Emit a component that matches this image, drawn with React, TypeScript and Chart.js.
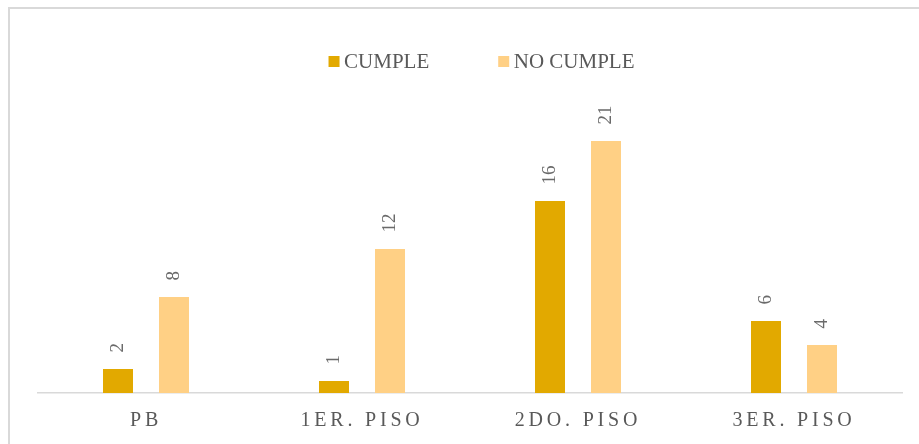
import { useEffect, useRef } from "react";
import { Chart, registerables } from "chart.js";

Chart.register(...registerables);

// Floors surveyed and how many items comply / do not comply on each
const categories = ["PB", "1ER. PISO", "2DO. PISO", "3ER. PISO"];
const seriesNames = ["CUMPLE", "NO CUMPLE"];
const cumple = [2, 1, 16, 6];
const noCumple = [8, 12, 21, 4];
const axisMax = 25;

const seriesColors = ["#E2A900", "#FFD085"];
const textGray = "#595959";
const valueGray = "#6A6A6A";
const lineGray = "#D9D9D9";
const SERIF = '"Liberation Serif", "Times New Roman", serif';

// Bar group geometry: two 30px bars, 26px apart, in a 216px category
const groupShare = 112 / 216;
const barShare = 30 / 56;

// Draws the rotated value labels, the spaced category labels and the legend
const decorations = {
  id: "decorations",
  afterDatasetsDraw(chart: any) {
    const ctx = chart.ctx;
    ctx.save();

    // value labels, reading bottom to top above each bar
    ctx.fillStyle = valueGray;
    ctx.font = `19px ${SERIF}`;
    ctx.textAlign = "left";
    ctx.textBaseline = "middle";
    chart.data.datasets.forEach((ds: any, di: number) => {
      const meta = chart.getDatasetMeta(di);
      meta.data.forEach((bar: any, i: number) => {
        const { x, y } = bar.getProps(["x", "y"], true);
        ctx.save();
        ctx.translate(x, y - 16.5);
        ctx.rotate(-Math.PI / 2);
        ctx.fillText(String(ds.data[i]), 0, 0);
        ctx.restore();
      });
    });

    // category labels with wide letter spacing
    ctx.fillStyle = textGray;
    ctx.font = `20px ${SERIF}`;
    ctx.letterSpacing = "3.8px";
    ctx.textAlign = "center";
    ctx.textBaseline = "alphabetic";
    const xs = chart.scales.x;
    categories.forEach((c, i) => {
      ctx.fillText(c, xs.getPixelForValue(i), chart.chartArea.bottom + 33);
    });
    ctx.letterSpacing = "0px";

    // legend
    ctx.font = `21px ${SERIF}`;
    ctx.textAlign = "left";
    const box = 11;
    const boxGap = 4.5;
    const itemGap = 69;
    const widths = seriesNames.map((n) => ctx.measureText(n).width);
    const total =
      widths.reduce((a: number, w: number) => a + box + boxGap + w, 0) +
      itemGap * (seriesNames.length - 1);
    let lx = 481.5 - total / 2;
    const baseY = 68;
    seriesNames.forEach((n, i) => {
      ctx.fillStyle = seriesColors[i];
      ctx.fillRect(lx, baseY - 12, box, box);
      ctx.fillStyle = textGray;
      ctx.fillText(n, lx + box + boxGap, baseY);
      lx += box + boxGap + widths[i] + itemGap;
    });

    ctx.restore();
  },
};

export default function App() {
  const canvasRef = useRef<HTMLCanvasElement | null>(null);

  useEffect(() => {
    const canvas = canvasRef.current;
    if (!canvas) return;
    const chart = new Chart(canvas, {
      type: "bar",
      data: {
        labels: categories,
        datasets: [
          {
            label: seriesNames[0],
            data: cumple,
            backgroundColor: seriesColors[0],
            categoryPercentage: groupShare,
            barPercentage: barShare,
          },
          {
            label: seriesNames[1],
            data: noCumple,
            backgroundColor: seriesColors[1],
            categoryPercentage: groupShare,
            barPercentage: barShare,
          },
        ],
      },
      options: {
        responsive: false,
        animation: false,
        devicePixelRatio: 1,
        layout: { padding: { left: 38, right: 17, top: 93, bottom: 51 } },
        plugins: {
          legend: { display: false },
          tooltip: { enabled: false },
        },
        scales: {
          x: {
            display: true,
            grid: { display: false, drawTicks: false },
            ticks: { display: false },
            border: { display: true, color: lineGray, width: 1.5 },
          },
          y: {
            display: false,
            min: 0,
            max: axisMax,
          },
        },
      },
      plugins: [decorations],
    });
    return () => chart.destroy();
  }, []);

  return (
    <div
      style={{
        position: "fixed",
        left: 0,
        top: 0,
        width: 919,
        height: 444,
        overflow: "hidden",
        background: "#ffffff",
      }}
    >
      <div
        style={{
          position: "absolute",
          left: 8,
          top: 7,
          width: 920,
          height: 450,
          borderTop: `2px solid ${lineGray}`,
          borderLeft: `2px solid ${lineGray}`,
        }}
      />
      <canvas
        ref={canvasRef}
        width={919}
        height={444}
        style={{ position: "absolute", left: 0, top: 0, width: 919, height: 444 }}
      />
    </div>
  );
}
